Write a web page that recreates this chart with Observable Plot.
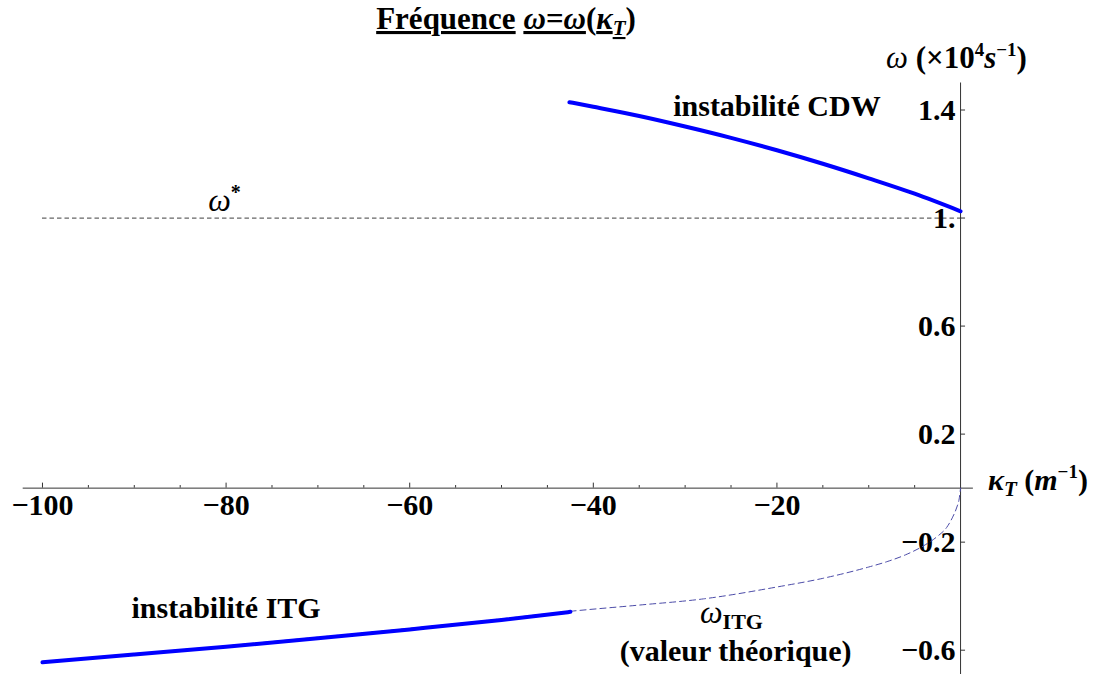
<!DOCTYPE html>
<html><head><meta charset="utf-8">
<script src="https://cdn.jsdelivr.net/npm/d3@7"></script>
<script src="https://cdn.jsdelivr.net/npm/@observablehq/plot@0.6"></script>
<style>
body{margin:0;background:#fff;}
#chart{position:relative;width:1110px;height:674px;}
</style></head><body><div id="chart"></div>
<script>
// CDW instability branch (simulation)
const cdwKappa = [-42.6, -40, -35, -30, -25, -20, -15, -10, -5, 0];
const cdwOmega = [1.429, 1.412, 1.378, 1.339, 1.297, 1.251, 1.201, 1.147, 1.09, 1.025];
// ITG instability branch (simulation)
const itgKappa = [-100, -90, -80, -70, -60, -50, -42.5];
const itgOmega = [-0.645, -0.616, -0.587, -0.556, -0.523, -0.488, -0.458];
// omega_ITG theoretical value
const theoKappa = [-100, -90, -80, -70, -60, -50, -42.5, -35, -28, -20, -15, -10, -8, -6, -4, -2.5, -1.5, -0.9, -0.4, -0.15, 0];
const theoOmega = [-0.642, -0.613, -0.584, -0.552, -0.519, -0.484, -0.456, -0.433, -0.41, -0.366, -0.334, -0.292, -0.272, -0.247, -0.213, -0.178, -0.145, -0.11, -0.07, -0.04, 0];
// omega* level
const omegaStar = [1.0];
// ticks
const xMajorTicks = [-100, -80, -60, -40, -20];
const xTickLabels = ["−100", "−80", "−60", "−40", "−20"];
const xMinorTicks = [-95, -90, -85, -75, -70, -65, -55, -50, -45, -35, -30, -25, -15, -10, -5];
const yTicks = [-0.6, -0.2, 0.2, 0.6, 1.0, 1.4];
const yTickLabels = ["−0.6", "−0.2", "0.2", "0.6", "1.", "1.4"];

const serif = "'Liberation Serif', 'Times New Roman', serif";
const cdw = cdwKappa.map((k, i) => ({k, w: cdwOmega[i]}));
const itg = itgKappa.map((k, i) => ({k, w: itgOmega[i]}));
const theo = theoKappa.map((k, i) => ({k, w: theoOmega[i]}));

const pxY = 270.1, pxX = 9.18;
const plot = Plot.plot({
  width: 1110, height: 674,
  marginLeft: 22.7, marginRight: 137.1, marginTop: 82.5, marginBottom: 0,
  x: {domain: [-102.1, 1.4], axis: null},
  y: {domain: [-0.69, 1.5], axis: null},
  style: {fontFamily: serif, background: "white", color: "black"},
  marks: [
    Plot.ruleY(omegaStar, {y: d => d, x1: -100, x2: 0, stroke: "#666", strokeWidth: 1.2, strokeDasharray: "4.5,3"}),
    Plot.ruleY([0], {stroke: "#333", strokeWidth: 1}),
    Plot.ruleX([0], {stroke: "#333", strokeWidth: 1}),
    Plot.ruleX(xMajorTicks, {x: d => d, y1: 0, y2: 5 / pxY, stroke: "#333"}),
    Plot.ruleX(xMinorTicks, {x: d => d, y1: 0, y2: 2.6 / pxY, stroke: "#333"}),
    Plot.ruleY(yTicks, {y: d => d, x1: 0, x2: 5 / pxX, stroke: "#333"}),
    Plot.text(xMajorTicks, {x: d => d, y: 0, text: (d, i) => xTickLabels[i], dy: 17, fontSize: 30, fontWeight: "bold", fill: "black"}),
    Plot.text(yTicks, {x: 0, y: d => d, text: (d, i) => yTickLabels[i], dx: -5, textAnchor: "end", fontSize: 30, fontWeight: "bold", fill: "black"}),
    Plot.line(theo, {x: "k", y: "w", stroke: "#4b4ba8", strokeWidth: 1, strokeDasharray: "6,4", curve: "monotone-x"}),
    Plot.line(itg, {x: "k", y: "w", stroke: "#0000ff", strokeWidth: 4, curve: "monotone-x"}),
    Plot.line(cdw, {x: "k", y: "w", stroke: "#0000ff", strokeWidth: 4, curve: "monotone-x"}),
    Plot.text(["instabilité CDW"], {x: -20, y: 1.414, text: d => d, fontSize: 30, fontWeight: "bold", fill: "black"}),
    Plot.text(["instabilité ITG"], {x: -80, y: -0.445, text: d => d, fontSize: 30, fontWeight: "bold", fill: "black"}),
    Plot.text(["(valeur théorique)"], {x: -24.5, y: -0.605, text: d => d, fontSize: 30, fontWeight: "bold", fill: "black"})
  ]
});
document.getElementById("chart").appendChild(plot);

const svg = d3.select(plot);
const sx = plot.scale("x"), sy = plot.scale("y");
function rich(x, y, parts, opts = {}) {
  const t = svg.append("text").attr("x", x).attr("y", y)
    .attr("font-family", serif).attr("font-size", opts.size || 30)
    .attr("font-weight", "bold").attr("fill", "black")
    .attr("text-anchor", opts.anchor || "start");
  for (const p of parts) {
    const s = t.append("tspan").text(p.t);
    if (p.i) s.attr("font-style", "italic");
    if (p.n) s.attr("font-weight", "normal");
    if (p.u) s.attr("text-decoration", "underline");
    if (p.size) s.attr("font-size", p.size);
    if (p.dy) s.attr("dy", p.dy);
  }
  return t;
}
// Title
rich(506, 29, [
  {t: "Fréquence", u: true}, {t: " "},
  {t: "ω=ω", i: true, u: true}, {t: "("},
  {t: "κ", i: true, u: true}, {t: "T", i: true, u: true, size: 21, dy: 6},
  {t: ")", dy: -6}
], {size: 31, anchor: "middle"});
// y axis label
rich(886, 68, [
  {t: "ω", i: true, n: true}, {t: " (×10"}, {t: "4", size: 19, dy: -12},
  {t: "s", i: true, dy: 12}, {t: "−1", size: 19, dy: -12}, {t: ")", dy: 12}
], {size: 31});
// x axis label
rich(988, 490, [
  {t: "κ", i: true}, {t: "T", i: true, size: 21, dy: 6},
  {t: " (", dy: -6}, {t: "m", i: true}, {t: "−1", size: 19, dy: -12}, {t: ")", dy: 12}
], {size: 30});
// omega star label
rich(sx.apply(-81.9), 211, [{t: "ω", i: true, n: true}, {t: "*", size: 20, dy: -12}], {size: 32});
// omega ITG label
rich(700, 623, [{t: "ω", i: true, n: true}, {t: "ITG", size: 22, dy: 6}], {size: 32});
</script></body></html>
